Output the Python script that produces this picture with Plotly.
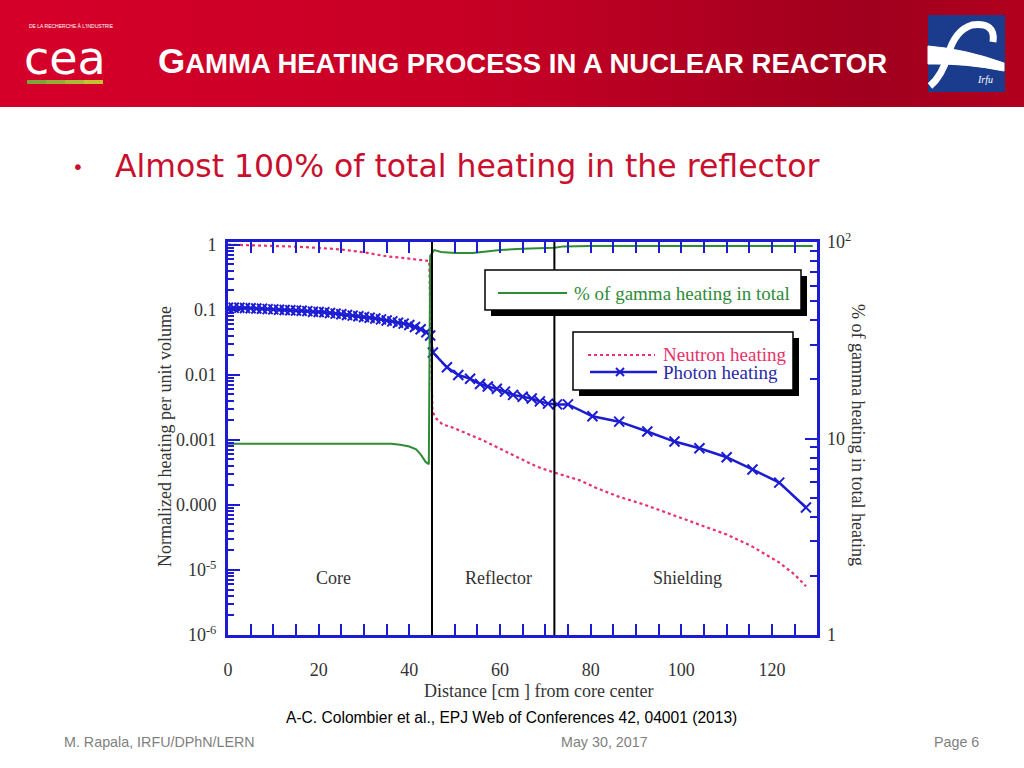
import plotly.graph_objects as go

W, H = 1024, 768

def px(x):
    return x / W

def py(y):
    return 1 - y / H

# ---------------- data ----------------
neutron_x = [0, 5, 10, 15, 20, 25, 30, 35, 38, 40, 42, 43.5, 44.4, 44.7, 44.9, 45.1, 46, 47.4, 49,
             56, 63.6, 68, 71.6, 77.5, 81, 86, 92, 99, 104, 110, 115.6, 121.6, 125, 127.5]
neutron_y = [1.0, 0.98, 0.96, 0.93, 0.89, 0.84, 0.76, 0.66, 0.63, 0.61, 0.59, 0.57, 0.56, 0.05, 0.008,
             0.0027, 0.0021, 0.0017, 0.0016, 0.0010, 5.5e-4, 3.9e-4, 3.2e-4, 2.4e-4, 1.85e-4, 1.35e-4,
             1.0e-4, 6.6e-5, 5.0e-5, 3.5e-5, 2.3e-5, 1.3e-5, 8.5e-6, 5.6e-6]

photon_x = [0.0, 1.25, 2.5, 3.75, 5.0, 6.25, 7.5, 8.75, 10.0, 11.25, 12.5, 13.75, 15.0, 16.25, 17.5,
            18.75, 20.0, 21.25, 22.5, 23.75, 25.0, 26.25, 27.5, 28.75, 30.0, 31.25, 32.5, 33.75, 35.0,
            36.25, 37.5, 38.75, 40.0, 41.25, 42.5, 43.75, 44.6,
            45.2, 48.3, 50.8, 53.4, 55.6, 57.3, 59.3, 61.1, 62.9, 65.0, 67.0, 68.8, 70.6, 72.6, 75.0,
            80.4, 86.3, 92.5, 98.5, 104.0, 110.0, 115.7, 121.6, 127.5]
photon_y = [0.107, 0.107, 0.107, 0.106, 0.105, 0.104, 0.103, 0.102, 0.101, 0.100, 0.099, 0.098, 0.097,
            0.096, 0.095, 0.093, 0.092, 0.091, 0.089, 0.087, 0.085, 0.083, 0.081, 0.079, 0.077, 0.075,
            0.073, 0.071, 0.068, 0.066, 0.063, 0.061, 0.058, 0.054, 0.050, 0.045, 0.040,
            0.022, 0.013, 0.0099, 0.0087, 0.0072, 0.0066, 0.0061, 0.0055, 0.0049, 0.0046, 0.0043,
            0.0039, 0.0036, 0.0035, 0.0035,
            0.0023, 0.0019, 0.00134, 0.00094, 0.00074, 0.00054, 0.00035, 0.00022, 0.000091]

gamma_x = [0, 36, 38, 40, 41.5, 42.5, 43.6, 44.3, 44.6, 45.5, 47, 50, 54, 57, 60, 65, 70, 72, 74, 80, 100, 129]
gamma_pct = [9.4, 9.4, 9.3, 9.1, 8.8, 8.3, 7.6, 7.4, 85, 91, 89, 88, 88, 89.5, 91, 92.5, 93, 93.5, 95, 95.5, 95.5, 95.5]

boundary_x = [45, 72]
region_labels = ["Core", "Reflector", "Shielding"]
region_x = [23.2, 59.6, 101.3]
region_logy = -5.13

x_ticks = [0, 20, 40, 60, 80, 100, 120]
y_ticks = [1, 0.1, 0.01, 0.001, 0.0001, 1e-5, 1e-6]
y_ticktext = ["1", "0.1", "0.01", "0.001", "0.000", "10<sup>-5</sup>", "10<sup>-6</sup>"]
y2_ticks = [1, 10, 100]
y2_ticktext = ["1", "10", "10<sup>2</sup>"]

# ---------------- styles ----------------
BLUE = "#1c1cd2"
RED = "#e8306a"
GREEN = "#2e8b36"
SERIF = "Liberation Serif"
TXT = "#333333"

fig = go.Figure()

fig.add_trace(go.Scatter(x=gamma_x, y=gamma_pct, yaxis="y2", mode="lines",
                         line=dict(color=GREEN, width=2), hoverinfo="skip"))
fig.add_trace(go.Scatter(x=neutron_x, y=neutron_y, mode="lines",
                         line=dict(color=RED, width=2.2, dash="3px,3px"), hoverinfo="skip"))
fig.add_trace(go.Scatter(x=photon_x, y=photon_y, mode="lines+markers",
                         line=dict(color=BLUE, width=2.5),
                         marker=dict(symbol="x-thin", size=10, line=dict(color=BLUE, width=2)),
                         hoverinfo="skip"))

shapes = []
annotations = []

# header gradient
stops = [(0, (214, 0, 42)), (0.45, (200, 0, 38)), (0.85, (160, 0, 30)), (1.0, (178, 0, 30))]

def grad(t):
    for (t0, c0), (t1, c1) in zip(stops[:-1], stops[1:]):
        if t0 <= t <= t1:
            f = (t - t0) / (t1 - t0)
            return "rgb(%d,%d,%d)" % tuple(int(a + (b - a) * f) for a, b in zip(c0, c1))
    return "rgb(%d,%d,%d)" % stops[-1][1]

N = 64
for i in range(N):
    x0 = i * W / N
    x1 = (i + 1) * W / N + 1
    shapes.append(dict(type="rect", xref="paper", yref="paper", x0=px(x0), x1=px(x1), y0=py(107), y1=py(0),
                       fillcolor=grad((i + 0.5) / N), line=dict(width=0), layer="below"))

# CEA logo bar
bar_cols = ["#7fa23a", "#95ad38", "#abb736", "#c2c234"]
for i, c in enumerate(bar_cols):
    shapes.append(dict(type="rect", xref="paper", yref="paper", x0=px(27 + i * 19), x1=px(27 + (i + 1) * 19),
                       y0=py(84), y1=py(80), fillcolor=c, line=dict(width=0)))
annotations.append(dict(xref="paper", yref="paper", x=px(27), y=py(26), xanchor="left", yanchor="middle",
                        text="DE LA RECHERCHE À L'INDUSTRIE", showarrow=False,
                        font=dict(family="Liberation Sans", size=5, color="white")))
annotations.append(dict(xref="paper", yref="paper", x=px(65), y=py(58), xanchor="center", yanchor="middle",
                        text="cea", showarrow=False,
                        font=dict(family="DejaVu Sans", size=46, color="white")))

# IRFU logo
shapes.append(dict(type="rect", xref="paper", yref="paper", x0=px(928), x1=px(1005), y0=py(92), y1=py(15),
                   fillcolor="#1b3c8c", line=dict(width=0)))

def path(cmds):
    out = []
    for c in cmds:
        if isinstance(c, str):
            out.append(c)
        else:
            out.append("%f,%f" % (px(c[0]), py(c[1])))
    return " ".join(out)

shapes.append(dict(type="path", xref="paper", yref="paper",
                   path=path(["M", (993, 42), "Q", (996, 22), (972, 25), "Q", (955, 30), (948, 55),
                              "Q", (942, 76), (930, 86)]),
                   line=dict(color="white", width=7)))
shapes.append(dict(type="path", xref="paper", yref="paper",
                   path=path(["M", (928, 46), "Q", (965, 49), (1004, 63), "L", (1004, 71),
                              "Q", (965, 63), (928, 64), "Z"]),
                   fillcolor="white", line=dict(color="white", width=1)))
annotations.append(dict(xref="paper", yref="paper", x=px(985), y=py(80), xanchor="center", yanchor="middle",
                        text="<i>Irfu</i>", showarrow=False,
                        font=dict(family=SERIF, size=10, color="white")))

# title
annotations.append(dict(xref="paper", yref="paper", x=px(522), y=py(60), xanchor="center", yanchor="middle",
                        text="<b><span style='font-size:35px'>G</span>AMMA HEATING PROCESS IN A NUCLEAR REACTOR</b>",
                        showarrow=False, font=dict(family="Liberation Sans", size=27.5, color="white")))

# bullet
annotations.append(dict(xref="paper", yref="paper", x=px(78), y=py(167), xanchor="center", yanchor="middle",
                        text="•", showarrow=False, font=dict(family="DejaVu Sans", size=20, color="#c8102e")))
annotations.append(dict(xref="paper", yref="paper", x=px(113), y=py(166), xanchor="left", yanchor="middle",
                        text="Almost 100% of total heating in the reflector", showarrow=False,
                        font=dict(family="DejaVu Sans", size=31.5, color="#c8102e")))

# citation and footer
annotations.append(dict(xref="paper", yref="paper", x=px(511), y=py(717), xanchor="center", yanchor="middle",
                        text="A-C. Colombier et al., EPJ Web of Conferences 42, 04001 (2013)", showarrow=False,
                        font=dict(family="Liberation Sans", size=15.6, color="black")))
annotations.append(dict(xref="paper", yref="paper", x=px(62), y=py(742), xanchor="left", yanchor="middle",
                        text="M. Rapala, IRFU/DPhN/LERN", showarrow=False,
                        font=dict(family="Liberation Sans", size=14.3, color="#7f7f7f")))
annotations.append(dict(xref="paper", yref="paper", x=px(604), y=py(742), xanchor="center", yanchor="middle",
                        text="May 30, 2017", showarrow=False,
                        font=dict(family="Liberation Sans", size=14.3, color="#7f7f7f")))
annotations.append(dict(xref="paper", yref="paper", x=px(981), y=py(742), xanchor="right", yanchor="middle",
                        text="Page 6", showarrow=False,
                        font=dict(family="Liberation Sans", size=14.3, color="#7f7f7f")))

# boundary lines
for bx in boundary_x:
    shapes.append(dict(type="line", xref="x", yref="y domain", x0=bx, x1=bx, y0=0, y1=1,
                       line=dict(color="black", width=2)))

# region labels
for lab, rx in zip(region_labels, region_x):
    annotations.append(dict(xref="x", yref="y", x=rx, y=region_logy, text=lab, showarrow=False,
                            xanchor="center", yanchor="middle",
                            font=dict(family=SERIF, size=18, color=TXT)))

# axis titles
annotations.append(dict(xref="paper", yref="paper", x=px(538), y=py(691), xanchor="center", yanchor="middle",
                        text="Distance [cm ] from core center", showarrow=False,
                        font=dict(family=SERIF, size=18, color=TXT)))
annotations.append(dict(xref="paper", yref="paper", x=px(165), y=py(437), xanchor="center", yanchor="middle",
                        text="Normalized heating per unit volume", showarrow=False, textangle=-90,
                        font=dict(family=SERIF, size=18, color=TXT)))
annotations.append(dict(xref="paper", yref="paper", x=px(858), y=py(435), xanchor="center", yanchor="middle",
                        text="% of gamma heating in total heating", showarrow=False, textangle=90,
                        font=dict(family=SERIF, size=18, color=TXT)))

# legend boxes (shadow + box)
def box(x0, y0, x1, y1, dx=6, dy=6):
    shapes.append(dict(type="rect", xref="paper", yref="paper", x0=px(x0 + dx), x1=px(x1 + dx),
                       y0=py(y1 + dy), y1=py(y0 + dy), fillcolor="black", line=dict(width=0)))
    shapes.append(dict(type="rect", xref="paper", yref="paper", x0=px(x0), x1=px(x1),
                       y0=py(y1), y1=py(y0), fillcolor="white", line=dict(color="black", width=1.5)))

box(485, 270, 801, 310)
box(573, 332, 793, 390)

shapes.append(dict(type="line", xref="paper", yref="paper", x0=px(498), x1=px(567), y0=py(293), y1=py(293),
                   line=dict(color=GREEN, width=2)))
shapes.append(dict(type="line", xref="paper", yref="paper", x0=px(588), x1=px(655), y0=py(355), y1=py(355),
                   line=dict(color=RED, width=2.2, dash="3px,3px")))
shapes.append(dict(type="line", xref="paper", yref="paper", x0=px(590), x1=px(657), y0=py(372), y1=py(372),
                   line=dict(color=BLUE, width=2.5)))
for sx in (-1, 1):
    shapes.append(dict(type="line", xref="paper", yref="paper", x0=px(620 - 4), x1=px(620 + 4),
                       y0=py(372 - 4 * sx), y1=py(372 + 4 * sx), line=dict(color=BLUE, width=2)))

annotations.append(dict(xref="paper", yref="paper", x=px(572), y=py(293), xanchor="left", yanchor="middle",
                        text="% of gamma heating in total", showarrow=False,
                        font=dict(family=SERIF, size=19, color=GREEN)))
annotations.append(dict(xref="paper", yref="paper", x=px(661), y=py(364), xanchor="left", yanchor="middle",
                        align="left",
                        text=("<span style='font-size:19px;color:%s'>Neutron heating</span><br>"
                              "<span style='font-size:19px;color:#2a2aa8'>Photon heating</span>") % RED,
                        showarrow=False,
                        font=dict(family=SERIF, size=14, color=RED)))

plot_top, plot_bot = 242, 635

fig.update_layout(
    width=W, height=H, autosize=False,
    margin=dict(l=0, r=0, t=0, b=0, pad=0, autoexpand=False),
    paper_bgcolor="white", plot_bgcolor="white",
    showlegend=False,
    shapes=shapes, annotations=annotations,
    xaxis=dict(domain=[px(228), px(817.3)], range=[0, 130], showgrid=False, zeroline=False,
               automargin=False,
               showline=True, linecolor=BLUE, linewidth=3, mirror="allticks",
               ticks="inside", tickcolor=BLUE, tickwidth=2, ticklen=11,
               tickmode="array", tickvals=x_ticks, ticklabelstandoff=16,
               minor=dict(ticks="inside", dtick=5, tick0=0, ticklen=6, tickcolor=BLUE, tickwidth=2, showgrid=False),
               tickfont=dict(family=SERIF, size=18, color=TXT)),
    yaxis=dict(domain=[py(plot_bot), py(plot_top)], type="log", range=[-6.0, 0.04],
               automargin=False,
               showgrid=False, zeroline=False, showline=True, linecolor=BLUE, linewidth=3,
               ticks="inside", tickcolor=BLUE, tickwidth=2, ticklen=12,
               tickmode="array", tickvals=y_ticks, ticktext=y_ticktext, ticklabelstandoff=5,
               minor=dict(ticks="inside", dtick="D1", ticklen=6, tickcolor=BLUE, tickwidth=2, showgrid=False),
               tickfont=dict(family=SERIF, size=18, color=TXT)),
    yaxis2=dict(overlaying="y", side="right", type="log", range=[0, 2], anchor="x",
                automargin=False,
                showgrid=False, zeroline=False, showline=True, linecolor=BLUE, linewidth=3,
                ticks="inside", tickcolor=BLUE, tickwidth=2, ticklen=12,
                tickmode="array", tickvals=y2_ticks, ticktext=y2_ticktext, ticklabelstandoff=3,
                minor=dict(ticks="inside", dtick="D1", ticklen=7, tickcolor=BLUE, tickwidth=2, showgrid=False),
                tickfont=dict(family=SERIF, size=18, color=TXT)),
)

fig.write_html("out.html", config={"displayModeBar": False},
               post_script="document.body.style.margin='0px';document.body.style.overflow='hidden';")
